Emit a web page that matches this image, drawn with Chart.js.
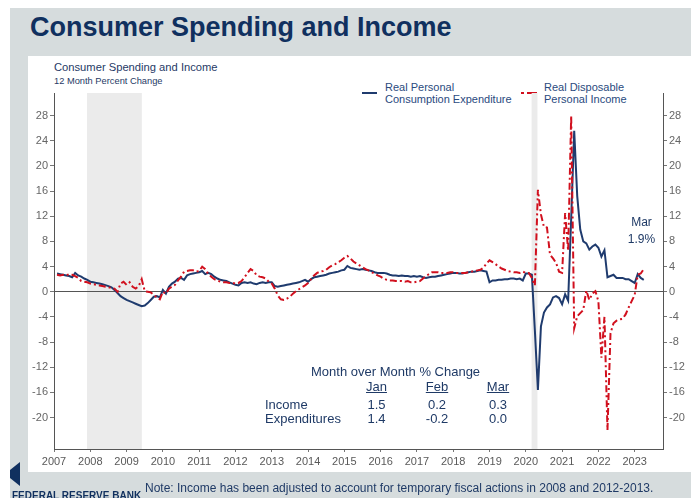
<!DOCTYPE html>
<html>
<head>
<meta charset="utf-8">
<script src="https://cdn.jsdelivr.net/npm/chart.js@4.4.0/dist/chart.umd.min.js"></script>
<style>
html,body{margin:0;padding:0;width:691px;height:498px;overflow:hidden;background:#fff;font-family:"Liberation Sans",Arial,sans-serif;}
.abs{position:absolute;white-space:nowrap;}
#bg{position:absolute;left:10px;top:8px;width:681px;height:490px;background:#d6dcdd;}
#panel{position:absolute;left:28px;top:56px;width:663px;height:416px;background:#fff;}
#title{left:30px;top:14px;font-size:27px;line-height:27px;font-weight:bold;color:#10305f;}
#sub1{left:54px;top:61.5px;font-size:11.2px;line-height:11.2px;color:#1f3a66;}
#sub2{left:54px;top:77px;font-size:9.3px;line-height:9.3px;color:#1f3a66;}
.leg{font-size:11px;line-height:12.6px;color:#2a4a7e;}
#note{left:145px;top:481.5px;font-size:12px;line-height:12px;color:#1f3a66;}
#frb{left:12px;top:491.4px;font-size:10px;line-height:10px;font-weight:bold;color:#10305f;}
.tbl{font-size:13px;line-height:13px;color:#1f3a66;}
.cell{width:60px;text-align:center;}
#chart{position:absolute;left:0;top:0;}
</style>
</head>
<body>
<div id="bg"></div>
<div id="panel"></div>
<div id="title" class="abs">Consumer Spending and Income</div>
<div id="sub1" class="abs">Consumer Spending and Income</div>
<div id="sub2" class="abs">12 Month Percent Change</div>
<div id="leg1" class="abs leg" style="left:385px;top:80.6px;">Real Personal<br>Consumption Expenditure</div>
<div id="leg2" class="abs leg" style="left:544px;top:80.6px;">Real Disposable<br>Personal Income</div>
<svg class="abs" style="left:0;top:0;" width="691" height="498">
  <line x1="362" y1="93" x2="377" y2="93" stroke="#1f3b6e" stroke-width="2"/>
  <line x1="521" y1="93" x2="524" y2="93" stroke="#d1101e" stroke-width="2"/>
  <line x1="527" y1="93" x2="537" y2="93" stroke="#d1101e" stroke-width="2"/>
  <polygon points="20,462 20,486 10,478 10,470" fill="#10305f"/>
</svg>
<canvas id="chart" width="691" height="498"></canvas>
<div id="mar1" class="abs" style="left:611.5px;top:215.8px;width:60px;text-align:center;font-size:12px;line-height:12px;color:#1f3a66;"></div>
<div id="mar2" class="abs" style="left:611.5px;top:232.8px;width:60px;text-align:center;font-size:12px;line-height:12px;color:#1f3a66;"></div>
<div id="tblwrap"></div>
<div id="note" class="abs">Note: Income has been adjusted to account for temporary fiscal actions in 2008 and 2012-2013.</div>
<div id="frb" class="abs">FEDERAL RESERVE BANK</div>
<script>
// ---------- DATA ----------
const startYear = 2007;            // first month = Jan 2007
const yearLabels = [2007,2008,2009,2010,2011,2012,2013,2014,2015,2016,2017,2018,2019,2020,2021,2022,2023];
const yTickValues = [-20,-16,-12,-8,-4,0,4,8,12,16,20,24,28];
const recessions = [[2007.91, 2009.42], [2020.16, 2020.32]];

// Real Personal Consumption Expenditure, 12-month % change (Jan 2007 - Mar 2023)
const pce = [
  2.9, 2.8, 2.7, 2.6, 2.5, 2.3, 3.0, 2.6, 2.4, 2.1, 1.9, 1.6,
  1.5, 1.4, 1.3, 1.2, 1.05, 0.9, 0.7, 0.3, -0.2, -0.7, -1.0, -1.3,
  -1.5, -1.7, -1.9, -2.1, -2.3, -2.2, -1.8, -1.3, -0.8, -0.7, -0.9, 0.3,
  -0.3, 0.8, 1.3, 1.6, 2.1, 2.2, 1.9, 2.6, 2.8, 2.9, 3.0, 3.1,
  3.3, 2.8, 3.0, 2.8, 2.4, 2.1, 1.9, 1.8, 1.7, 1.5, 1.3, 1.1,
  1.0, 1.4, 1.5, 1.4, 1.5, 1.3, 1.2, 1.4, 1.5, 1.4, 1.5, 1.5,
  0.9, 0.8, 0.9, 1.0, 1.1, 1.2, 1.3, 1.4, 1.5, 1.7, 1.9, 1.6,
  2.0, 2.3, 2.4, 2.5, 2.6, 2.7, 2.9, 3.0, 3.1, 3.2, 3.4, 3.5,
  4.1, 3.8, 3.7, 3.6, 3.5, 3.6, 3.5, 3.4, 3.3, 3.1, 3.0, 3.0,
  3.0, 2.9, 2.7, 2.6, 2.6, 2.5, 2.6, 2.5, 2.5, 2.4, 2.5, 2.4,
  2.5, 2.3, 2.2, 2.3, 2.4, 2.4, 2.5, 2.6, 2.7, 2.8, 2.9, 3.0,
  3.0, 2.9, 2.9, 3.0, 3.1, 3.2, 3.2, 3.3, 3.4, 3.3, 3.2, 1.5,
  1.8, 1.8, 1.9, 1.9, 2.0, 2.0, 2.1, 2.1, 2.0, 2.1, 1.8, 2.9,
  2.9, 2.7, -6.2, -15.6, -5.5, -3.3, -2.5, -2.0, -0.9, -0.7, -1.0, -2.0,
  -0.4, -1.4, 11.6, 25.6, 15.2, 9.9, 8.0, 7.7, 6.7, 7.2, 7.5, 7.0,
  5.6, 6.6, 2.3, 2.5, 2.7, 2.2, 2.2, 2.2, 2.0, 2.0, 1.7, 1.4,
  2.8, 2.2, 1.9
];

// Real Disposable Personal Income, 12-month % change (Jan 2007 - Mar 2023)
const dpi = [
  2.7, 2.6, 2.7, 2.6, 2.8, 2.7, 2.5, 2.2, 1.7, 1.6, 1.5, 1.3,
  1.2, 1.1, 1.0, 0.9, 0.8, 0.7, 0.6, 0.5, 0.0, 1.3, 1.6, 1.1,
  1.5, 0.8, 0.5, 0.9, 2.0, 0.1, 0.0, -0.1, -0.5, -0.9, -1.2, 0.0,
  -0.3, 0.5, 0.8, 1.1, 1.8, 2.4, 3.2, 3.3, 3.4, 3.4, 3.2, 3.3,
  4.0, 3.6, 2.8, 2.4, 2.0, 1.8, 1.6, 1.5, 1.5, 1.4, 1.4, 1.3,
  1.4, 1.7, 2.3, 3.0, 3.6, 3.3, 2.6, 2.4, 2.3, 2.1, 1.6, 1.3,
  0.5, -0.6, -1.2, -1.3, -1.1, -0.8, -0.3, 0.1, 0.4, 0.7, 1.0, 1.4,
  2.0, 2.6, 3.0, 3.2, 3.3, 3.5, 3.9, 4.2, 4.4, 4.7, 5.0, 5.4,
  5.7, 5.3, 4.8, 4.5, 4.2, 3.9, 3.6, 3.4, 3.1, 2.9, 2.6, 2.4,
  2.1, 1.9, 1.8, 1.8, 1.7, 1.7, 1.7, 1.6, 1.7, 1.5, 1.5, 1.6,
  1.7, 2.1, 2.5, 2.8, 3.1, 3.1, 3.1, 3.0, 3.0, 3.0, 3.1, 3.1,
  3.0, 3.0, 3.0, 3.0, 3.1, 3.2, 3.3, 3.4, 3.5, 3.8, 4.5, 5.0,
  4.7, 4.4, 4.0, 3.7, 3.5, 3.3, 3.2, 3.1, 3.1, 3.0, 3.2, 3.0,
  3.0, 2.2, 1.0, 16.2, 12.3, 10.3, 10.2, 5.9, 5.3, 4.6, 3.2, 3.0,
  12.5, 6.5, 28.0, -5.8, -3.9, -3.4, -2.9, 0.2, -1.3, -0.3, 0.1, -1.5,
  -10.5, -4.0, -22.0, -6.6, -5.0, -4.6, -4.4, -4.3, -3.6, -2.5, -1.5, -0.5,
  2.7, 2.9, 3.6
];

// Month-over-month table and latest-value annotation
const tableTitle = 'Month over Month % Change';
const tableMonths = ['Jan', 'Feb', 'Mar'];
const tableRows = ['Income', 'Expenditures'];
const incomeMoM = ['1.5', '0.2', '0.3'];
const expendMoM = ['1.4', '-0.2', '0.0'];
const latestLabel = ['Mar', '1.9%'];

// ---------- TEXT ELEMENTS ----------
document.getElementById('mar1').textContent = latestLabel[0];
document.getElementById('mar2').textContent = latestLabel[1];
(function buildTable(){
  const w = document.getElementById('tblwrap');
  const colX = [376.5, 437, 498];
  let html = '<div class="abs tbl" style="left:311px;top:364.6px;">' + tableTitle + '</div>';
  tableMonths.forEach((m, i) => {
    html += '<div class="abs tbl cell" style="left:' + (colX[i]-30) + 'px;top:380.2px;"><span style="text-decoration:underline;">' + m + '</span></div>';
  });
  const rowsVals = [incomeMoM, expendMoM];
  const rowTop = [397.6, 411.6];
  tableRows.forEach((r, j) => {
    html += '<div class="abs tbl" style="left:265px;top:' + rowTop[j] + 'px;">' + r + '</div>';
    rowsVals[j].forEach((v, i) => {
      html += '<div class="abs tbl cell" style="left:' + (colX[i]-30) + 'px;top:' + rowTop[j] + 'px;">' + v + '</div>';
    });
  });
  w.innerHTML = html;
})();

// ---------- CHART ----------
const FONT = '"Liberation Sans", Arial, sans-serif';
Chart.defaults.font.family = FONT;
const monthX = pce.map((_, i) => startYear + (i + 1) / 12);
const yMin = -25, yMax = 31.6;

const shadePlugin = {
  id: 'recessionShade',
  beforeDraw(chart) {
    const {ctx, chartArea, scales} = chart;
    ctx.save();
    ctx.fillStyle = '#ebebeb';
    recessions.forEach(([a, b]) => {
      const x1 = scales.x.getPixelForValue(a);
      const x2 = scales.x.getPixelForValue(b);
      ctx.fillRect(x1, chartArea.top, x2 - x1, chartArea.bottom - chartArea.top);
    });
    ctx.restore();
  }
};

const setYTicks = s => { s.ticks = yTickValues.map(v => ({value: v})); };

new Chart(document.getElementById('chart').getContext('2d'), {
  type: 'line',
  data: {
    datasets: [
      {
        label: 'Real Personal Consumption Expenditure',
        data: pce.map((v, i) => ({x: monthX[i], y: v})),
        borderColor: '#1f3b6e', borderWidth: 2, pointRadius: 0, tension: 0, order: 1
      },
      {
        label: 'Real Disposable Personal Income',
        data: dpi.map((v, i) => ({x: monthX[i], y: v})),
        borderColor: '#d1101e', borderWidth: 2, borderDash: [7, 3, 2, 3],
        pointRadius: 0, tension: 0, order: 0
      }
    ]
  },
  options: {
    responsive: false, animation: false, devicePixelRatio: 1,
    layout: {padding: {left: 28, right: 0, top: 93, bottom: 26}},
    plugins: {legend: {display: false}, tooltip: {enabled: false}},
    scales: {
      x: {
        type: 'linear', min: 2007, max: 2023.78,
        afterBuildTicks: s => { s.ticks = yearLabels.map(v => ({value: v})); },
        afterFit: s => { s.height = 23; },
        grid: {drawOnChartArea: false, drawTicks: true, tickLength: 3, color: '#777'},
        border: {color: '#555', width: 1},
        ticks: {color: '#595959', font: {size: 11}, padding: 3, maxRotation: 0, autoSkip: false,
                callback: v => String(v)}
      },
      y: {
        type: 'linear', position: 'left', min: yMin, max: yMax,
        afterBuildTicks: setYTicks,
        afterFit: s => { s.width = 26; },
        grid: {
          drawOnChartArea: true, drawTicks: true, tickLength: 4,
          color: c => (c.tick && c.tick.value === 0) ? '#555' : 'rgba(0,0,0,0)',
          tickColor: '#777', lineWidth: 1
        },
        border: {color: '#555', width: 1},
        ticks: {color: '#666', font: {size: 11}, padding: 2, autoSkip: false, callback: v => String(v)}
      },
      y2: {
        type: 'linear', position: 'right', min: yMin, max: yMax,
        afterBuildTicks: setYTicks,
        afterFit: s => { s.width = 28; },
        grid: {drawOnChartArea: false, drawTicks: true, tickLength: 4, tickColor: '#777'},
        border: {color: '#555', width: 1},
        ticks: {color: '#666', font: {size: 11}, padding: 2, autoSkip: false, callback: v => String(v)}
      }
    }
  },
  plugins: [shadePlugin]
});
</script>
</body>
</html>
